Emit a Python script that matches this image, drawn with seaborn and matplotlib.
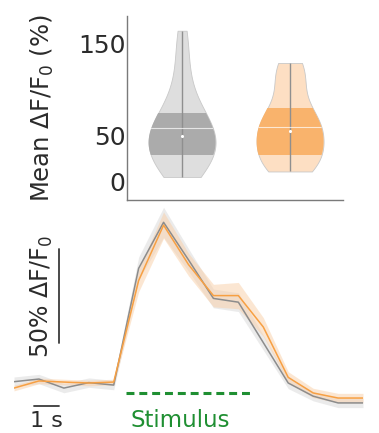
'''
Violin comparison of mean responses and the averaged calcium traces
'''
import numpy as np
import pandas as pd
import matplotlib
matplotlib.use('Agg')
import matplotlib.pyplot as plt
import seaborn as sns
from matplotlib.patches import PathPatch, Rectangle

# per-cell mean dF/F0 (%) for the two groups
group_names = ['gray', 'orange']
gray_cells = [5, 8, 12, 17, 22, 26, 29, 33, 37, 41, 44, 47, 50, 53, 57,
              61, 66, 71, 75, 82, 92, 105, 122, 143, 164]
orange_cells = [11, 13, 16, 19, 22, 25, 28, 32, 37, 42, 46, 50, 53, 57, 61,
                64, 67, 70, 72, 82, 93, 104, 114, 121, 126, 129]

# averaged traces (% dF/F0), one frame per second, with SEM
time_s = [0, 1, 2, 3, 4, 5, 6, 7, 8, 9, 10, 11, 12, 13, 14]
gray_mean = [0.7, 2.1, -2.7, 0.2, -1.1, 61.0, 85.5, 65.5, 45.0, 43.0,
             21.5, 0.0, -7.0, -10.6, -10.6]
gray_sem = [2.5, 2.5, 2.5, 2.5, 2.5, 6, 8, 6, 5, 5, 4, 3, 2.5, 2.5, 2.5]
orange_mean = [-2.7, 1.1, 0.5, 0.0, 0.5, 54.5, 84.0, 63.0, 46.5, 46.5,
               29.8, 3.0, -5.3, -8.0, -8.0]
orange_sem = [1.5, 1.5, 1.5, 1.5, 1.5, 6, 7, 6, 6, 7, 5, 3, 2.5, 2.5, 2.5]
stim_on, stim_off = 4.5, 9.45

light = ['#dedede', '#fddfc3']
dark = ['#ababab', '#f9b36c']
line_col = ['#8c8c8c', '#f7a043']
green = '#1f8f32'

sns.set_style('white')
plt.rcParams['font.family'] = ['DejaVu Sans']
plt.rcParams['mathtext.fontset'] = 'dejavusans'
txt = '#2b2b2b'

fig = plt.figure(figsize=(3.79, 4.33), dpi=100)
ax = fig.add_axes([127 / 379, 233 / 433, 216 / 379, 184 / 433])
ax2 = fig.add_axes([14 / 379, 0, 349 / 379, 228 / 433])

# ---- violins
cells = pd.DataFrame({
    'group': ['gray'] * len(gray_cells) + ['orange'] * len(orange_cells),
    'value': gray_cells + orange_cells})
sns.violinplot(data=cells, x='group', y='value', hue='group',
               order=group_names, hue_order=group_names, palette=light,
               cut=0, inner=None, density_norm='width', width=0.62,
               linewidth=0.6, linecolor='#c8c8c8', saturation=1,
               legend=False, ax=ax)

bodies = sorted(ax.collections,
                key=lambda c: c.get_paths()[0].vertices[:, 0].mean())
for i, (body, vals) in enumerate(zip(bodies, [gray_cells, orange_cells])):
    path = body.get_paths()[0]
    q1, med, q3 = np.percentile(vals, [25, 50, 75])
    band = PathPatch(path, facecolor=dark[i], edgecolor='none', zorder=2)
    ax.add_patch(band)
    band.set_clip_path(Rectangle((i - 0.5, q1), 1, q3 - q1,
                                 transform=ax.transData))
    ax.vlines(i, min(vals), max(vals), color='#8f8f8f', lw=1, zorder=3)
    mline = ax.hlines(np.mean(vals), i - 0.5, i + 0.5, color='white',
                      lw=0.8, alpha=0.7, zorder=3)
    mline.set_clip_path(PathPatch(path, transform=ax.transData))
    ax.scatter([i], [med], s=5, color='white', zorder=4, linewidths=0)

ax.set_xlim(-0.51, 1.49)
ax.set_ylim(-20, 180)
ax.set_yticks([0, 50, 150])
ax.set_xticks([0, 1])
ax.set_xticklabels([])
ax.set_xlabel('')
ax.set_ylabel('Mean ΔF/F$_0$ (%)', fontsize=17.5, color=txt)
ax.yaxis.set_label_coords(-0.33, 0.5)
ax.tick_params(direction='in', length=2.5, width=1, colors='#555555',
               labelsize=18, labelcolor=txt, pad=1)
sns.despine(ax=ax)
for s in ['left', 'bottom']:
    ax.spines[s].set_color('#7a7a7a')
    ax.spines[s].set_linewidth(1)

# ---- traces
traces = pd.DataFrame({'t': time_s * 2,
                       'y': gray_mean + orange_mean,
                       'group': ['gray'] * 15 + ['orange'] * 15})
for m, e, fc in [(gray_mean, gray_sem, '#d8d8d8'),
                 (orange_mean, orange_sem, '#f9cfa6')]:
    m, e = np.array(m), np.array(e)
    ax2.fill_between(time_s, m - e, m + e, color=fc, alpha=0.5, lw=0)
sns.lineplot(data=traces, x='t', y='y', hue='group', palette=line_col,
             lw=1.1, legend=False, ax=ax2)

ax2.set_xlim(0, 14)
ax2.set_ylim(-26.6, 94.7)
ax2.axis('off')

# stimulus bar and scale bars
ax2.plot([stim_on, stim_off], [-5.3, -5.3], color=green, lw=2.2,
         ls=(0, (2.6, 1.6)), solid_capstyle='butt', clip_on=False)
ax2.text((stim_on + stim_off) / 2 - 0.3, -20.0, 'Stimulus', color=green,
         fontsize=16.5, ha='center', va='center')
ax2.plot([1.8, 1.8], [21.3, 71.3], color='#3a3a3a', lw=1.3, clip_on=False)
ax2.text(1.1, 46, '50% ΔF/F$_0$', rotation=90, fontsize=17, color=txt,
         ha='center', va='center')
ax2.plot([0.8, 1.8], [-12.4, -12.4], color='#3a3a3a', lw=1.3,
         clip_on=False)
ax2.text(1.3, -23.4, '1 s', fontsize=16, color=txt, ha='center',
         va='baseline', clip_on=False)

fig.savefig('out.png', dpi=100)
